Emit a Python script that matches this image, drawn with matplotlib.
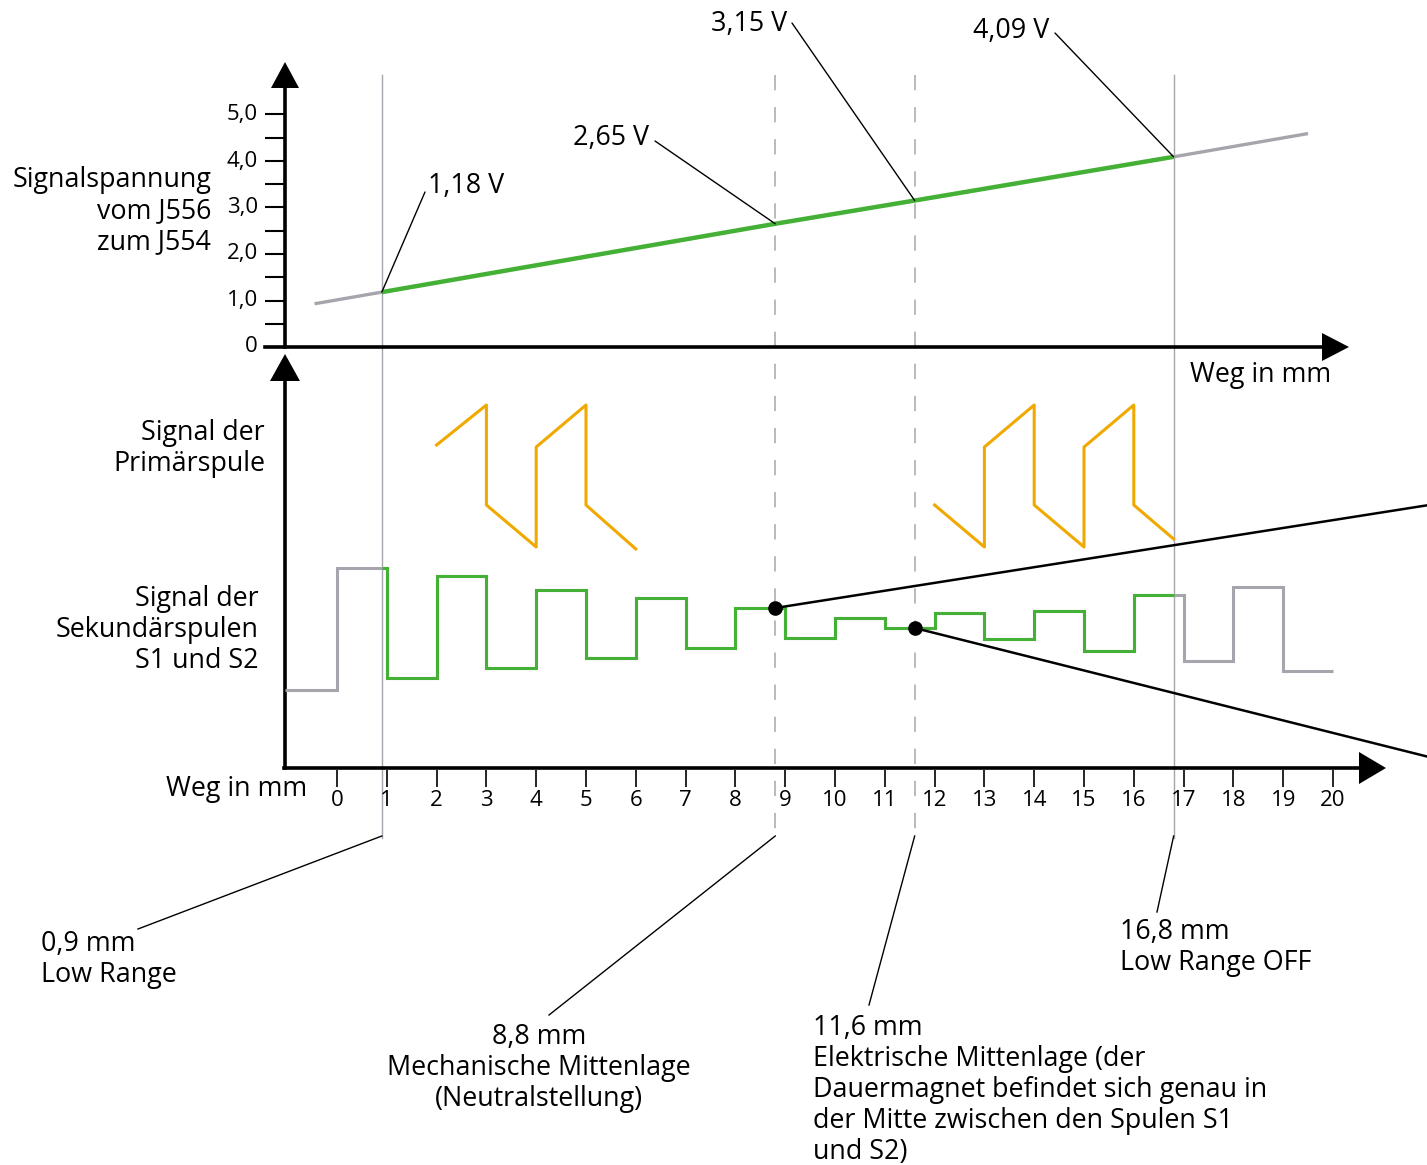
import numpy as np
import matplotlib.pyplot as plt

plt.rcParams['font.family'] = ['Open Sans', 'DejaVu Sans']

W, H = 1427, 1165
X0, MMPX = 337, 49.8      # pixel column of 0 mm, pixels per mm
V0, VPX = 347, 46.5       # pixel row of 0 V, pixels per volt
S0, SPX = 768, 100        # pixel row of lower x axis, pixels per signal unit

GREEN = '#45b036'
GRAY = '#a6a5ae'
ORANGE = '#f0a900'
FS = 19.4
TFS = 16
LS = 1.14

# marker positions (mm)
mark_mm = [0.9, 8.8, 11.6, 16.8]
mark_dashed = [False, True, True, False]

# Signalspannung vom J556 zum J554
volt_mm = [-0.45, 0.9, 8.8, 11.6, 16.8, 19.5]
volt_v = [0.93, 1.18, 2.65, 3.15, 4.09, 4.59]
volt_labels = ['1,18 V', '2,65 V', '3,15 V', '4,09 V']
volt_ticks = [0, 1, 2, 3, 4, 5]
volt_ticklabels = ['0', '1,0', '2,0', '3,0', '4,0', '5,0']
volt_minor = [0.5, 1.5, 2.5, 3.5, 4.5]

# Signal der Sekundaerspulen (level per mm section)
sec_edges = [-1.04] + list(range(0, 21))
sec_levels = [0.78, 2.00, 0.90, 1.92, 1.00, 1.78, 1.10, 1.70, 1.20, 1.60, 1.30,
              1.50, 1.40, 1.55, 1.29, 1.57, 1.17, 1.73, 1.07, 1.81, 0.97]

# Signal der Primaerspule
prim1_mm = [2.0, 3.0, 3.0, 4.0, 4.0, 5.0, 5.0, 6.0]
prim1_y = [3.23, 3.63, 2.63, 2.21, 3.21, 3.63, 2.63, 2.19]
prim2_mm = [12.0, 13.0, 13.0, 14.0, 14.0, 15.0, 15.0, 16.0, 16.0, 16.8]
prim2_y = [2.63, 2.21, 3.21, 3.63, 2.63, 2.21, 3.21, 3.63, 2.63, 2.29]

x_ticks = list(range(0, 21))


def mm(px):
    return (px - X0) / MMPX


def fx(px):
    return px / W


def fy(py):
    return 1 - py / H


fig = plt.figure(figsize=(W / 100, H / 100), dpi=100)
xlim = (mm(0), mm(W))

ann = fig.add_axes([0, 0, 1, 1])
ann.set_xlim(xlim)
ann.set_ylim(H, 0)
ax_v = fig.add_axes([0, 0, 1, 1])
ax_v.set_xlim(xlim)
ax_v.set_ylim((V0 - H) / VPX, V0 / VPX)
ax_s = fig.add_axes([0, 0, 1, 1])
ax_s.set_xlim(xlim)
ax_s.set_ylim((S0 - H) / SPX, S0 / SPX)
for a in (ann, ax_v, ax_s):
    a.axis('off')

# vertical marker lines
for m, d in zip(mark_mm, mark_dashed):
    if d:
        ann.plot([m, m], [75, 836], color=GRAY, lw=1.1, dashes=(10, 11))
    else:
        ann.plot([m, m], [75, 838], color=GRAY, lw=1.0)


def head(tip, base, hw):
    # tip/base in pixels, filled triangle
    tx, ty = tip
    bx, by = base
    if tx == bx:
        xs = [mm(bx - hw), mm(bx + hw), mm(tx)]
        ys = [by, by, ty]
    else:
        xs = [mm(bx), mm(bx), mm(tx)]
        ys = [by - hw, by + hw, ty]
    ann.fill(xs, ys, color='black', lw=0)


# axes frames
ann.plot([mm(285), mm(285)], [V0, 86], color='black', lw=2.6)
head((285, 62), (285, 88), 14)
ann.plot([mm(265), mm(1324)], [V0, V0], color='black', lw=2.6)
head((1349, V0), (1322, V0), 14)
ann.plot([mm(285), mm(285)], [S0, 378], color='black', lw=2.6)
head((285, 354), (285, 381), 15)
ann.plot([mm(284), mm(1362)], [S0, S0], color='black', lw=2.6)
head((1386, S0), (1359, S0), 16)

# tick marks
ax_v.hlines(volt_ticks + volt_minor, mm(265), mm(285), color='black', lw=1.5)
for t, lab in zip(volt_ticks, volt_ticklabels):
    ax_v.text(mm(258), t, lab, ha='right', va='center', fontsize=TFS)
ann.vlines(x_ticks, S0 + 2, S0 + 19, color='black', lw=1.2)
for t in x_ticks:
    ann.text(t, 800, str(t), ha='center', va='center', fontsize=TFS)

# voltage line
ax_v.plot(volt_mm[:2], volt_v[:2], color=GRAY, lw=2.4, solid_capstyle='butt')
ax_v.plot(volt_mm[-2:], volt_v[-2:], color=GRAY, lw=2.4, solid_capstyle='butt')
ax_v.plot(volt_mm[1:5], volt_v[1:5], color=GREEN, lw=3.2, solid_capstyle='butt')

# secondary signal: gray whole, green between 0.9 and 16.8 mm
ax_s.stairs(sec_levels, sec_edges, baseline=None, color=GRAY, lw=2.2)
e = np.array(sec_edges, dtype=float)
lv = np.array(sec_levels)
i0 = np.searchsorted(e, mark_mm[0]) - 1
i1 = np.searchsorted(e, mark_mm[3]) - 1
g_edges = np.concatenate([[mark_mm[0]], e[i0 + 1:i1 + 1], [mark_mm[3]]])
g_levels = lv[i0:i1 + 1]
ax_s.stairs(g_levels, g_edges, baseline=None, color=GREEN, lw=2.2)

# primary signal
ax_s.plot(prim1_mm, prim1_y, color=ORANGE, lw=2.2)
ax_s.plot(prim2_mm, prim2_y, color=ORANGE, lw=2.2)

# dots with leaders
dot_mm = [mark_mm[1], mark_mm[2]]
dot_y = [lv[np.searchsorted(e, d) - 1] for d in dot_mm]
ax_s.plot(dot_mm, dot_y, 'o', color='black', ms=9.5, zorder=5)
for d, y, ty in zip(dot_mm, dot_y, [505, 757]):
    ax_s.annotate('', xy=(d, y), xytext=(W + 2, H - ty), textcoords='figure pixels',
                  arrowprops=dict(arrowstyle='-', lw=1.8, color='black',
                                  shrinkA=0, shrinkB=0))

# voltage labels with leaders
lab_pos = [(428, 186, 'left', (425, 192)),
           (649, 138, 'right', (655, 141)),
           (787, 24, 'right', (792, 23)),
           (1049, 31, 'right', (1055, 33))]
for (lx, ly, ha, lp), m, v, lab in zip(lab_pos, volt_mm[1:5], volt_v[1:5], volt_labels):
    ax_v.annotate('', xy=(m, v), xytext=(lp[0], H - lp[1]), textcoords='figure pixels',
                  arrowprops=dict(arrowstyle='-', lw=1.0, color='black',
                                  shrinkA=0, shrinkB=0))
    fig.text(fx(lx), fy(ly), lab, ha=ha, va='center', fontsize=FS)

# marker labels below
mark_text = ['0,9 mm\nLow Range',
             '8,8 mm\nMechanische Mittenlage\n(Neutralstellung)',
             '11,6 mm\nElektrische Mittenlage (der\nDauermagnet befindet sich genau in\n'
             'der Mitte zwischen den Spulen S1\nund S2)',
             '16,8 mm\nLow Range OFF']
mark_lab = [(41, 959.5, 'left', (138, 929)),
            (539, 1068, 'center', (549, 1015)),
            (813, 1090, 'left', (869, 1005)),
            (1120, 947.5, 'left', (1157, 912))]
for m, txt, (lx, ly, ha, lp) in zip(mark_mm, mark_text, mark_lab):
    ann.plot([m, mm(lp[0])], [836, lp[1]], color='black', lw=1.0)
    fig.text(fx(lx), fy(ly), txt, ha=ha, va='center', fontsize=FS,
             multialignment=ha, linespacing=LS)

# axis labels
fig.text(fx(211), fy(211), 'Signalspannung\nvom J556\nzum J554', ha='right', va='center',
         fontsize=FS, multialignment='right', linespacing=LS)
fig.text(fx(265), fy(448.5), 'Signal der\nPrimärspule', ha='right', va='center',
         fontsize=FS, multialignment='right', linespacing=LS)
fig.text(fx(259), fy(630), 'Signal der\nSekundärspulen\nS1 und S2', ha='right', va='center',
         fontsize=FS, multialignment='right', linespacing=LS)
fig.text(fx(1190), fy(375), 'Weg in mm', ha='left', va='center', fontsize=FS)
fig.text(fx(307), fy(789), 'Weg in mm', ha='right', va='center', fontsize=FS)

fig.savefig('out.png', dpi=100, facecolor='white')
